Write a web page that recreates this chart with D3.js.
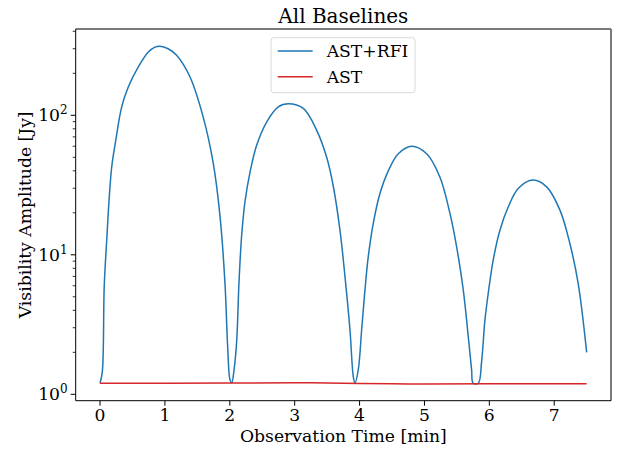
<!DOCTYPE html>
<html>
<head>
<meta charset="utf-8">
<script src="https://cdn.jsdelivr.net/npm/d3@7"></script>
<style>
  body { margin: 0; background: #fff; }
  text { font-family: "DejaVu Serif", serif; fill: #000; }
</style>
</head>
<body>
<svg id="chart" width="619" height="450"></svg>
<script>
// AST+RFI samples (time in min, amplitude in Jy)
var rfiTime = [0, 0.035, 0.065, 0.103, 0.139, 0.18, 0.242, 0.334, 0.437, 0.59, 0.744, 0.847, 0.925, 1.05, 1.18, 1.387,
    1.59, 1.746, 1.85, 1.926, 1.967, 2.003, 2.03, 2.065, 2.106, 2.142, 2.183, 2.234, 2.311, 2.414,
    2.568, 2.747, 2.902, 3.133, 3.339, 3.493, 3.595, 3.698, 3.775, 3.852, 3.903, 3.929, 3.98,
    4.032, 4.083, 4.134, 4.211, 4.314, 4.443, 4.597, 4.802, 5.034, 5.239, 5.393, 5.496, 5.598,
    5.675, 5.727, 5.75, 5.83, 5.88, 5.932, 5.983, 6.06, 6.163, 6.291, 6.445, 6.676, 6.883, 7.088,
    7.242, 7.37, 7.5];
var rfiAmp = [1.2, 1.45, 6, 12.7, 24.6, 42.6, 66, 115, 160, 222, 284, 308, 313, 300, 269, 188,
    97, 45, 18.7, 6.2, 2.2, 1.27, 1.21, 1.49, 2.4, 6.4, 13.8, 24, 39, 61,
    89.5, 115, 121, 112, 78, 50, 31, 15, 7, 2.9, 1.34, 1.2, 1.5,
    2.9, 5.6, 9.7, 16.8, 27.5, 40, 53, 60, 53, 36, 19.8, 11.4, 5.6,
    2.6, 1.49, 1.2, 1.2, 1.7, 3.4, 5.3, 9.2, 15, 22, 29.9, 34.3, 30.7, 20.9,
    12, 6.2, 2.0];

// AST only
var astTime = [0, 1, 2, 3, 3.5, 4.5, 5, 6, 7.5];
var astAmp = [1.2, 1.2, 1.205, 1.21, 1.205, 1.19, 1.185, 1.19, 1.19];

var xTicks = [0, 1, 2, 3, 4, 5, 6, 7];
var yMajor = [1, 10, 100];
var seriesNames = ["AST+RFI", "AST"];
var seriesColors = ["#1f77b4", "#d62728"];

var svg = d3.select("#chart");
var plotL = 75.7, plotR = 611, plotT = 29, plotB = 400.7;
var fs = "17.2px";

var x = d3.scaleLinear().domain([-0.375, 7.875]).range([plotL, plotR]);
var y = d3.scaleLog().domain([Math.pow(10, -0.0458), Math.pow(10, 2.6185)]).range([plotB, plotT]);

// x axis
var xAxis = svg.append("g").attr("transform", "translate(0," + plotB + ")");
xTicks.forEach(function (t) {
    xAxis.append("line").attr("x1", x(t)).attr("x2", x(t)).attr("y1", 0).attr("y2", 5)
        .attr("stroke", "#000").attr("stroke-width", 1);
    xAxis.append("text").attr("x", x(t)).attr("y", 20.5).attr("text-anchor", "middle")
        .style("font-size", fs).text(t);
});

// y axis, major + minor log ticks
var yAxis = svg.append("g").attr("transform", "translate(" + plotL + ",0)");
var minor = [];
yMajor.forEach(function (m) {
    for (var k = 2; k <= 9; k++) {
        if (m * k < y.domain()[1]) minor.push(m * k);
    }
});
minor.forEach(function (v) {
    yAxis.append("line").attr("x1", 0).attr("x2", -3).attr("y1", y(v)).attr("y2", y(v))
        .attr("stroke", "#000").attr("stroke-width", 0.8);
});
yMajor.forEach(function (v, i) {
    yAxis.append("line").attr("x1", 0).attr("x2", -5).attr("y1", y(v)).attr("y2", y(v))
        .attr("stroke", "#000").attr("stroke-width", 1);
    var lab = yAxis.append("text").attr("x", -8).attr("y", y(v) + 6).attr("text-anchor", "end")
        .style("font-size", fs);
    lab.append("tspan").text("10");
    lab.append("tspan").attr("dy", -7).style("font-size", "12px").text(i);
});

// lines
var line = d3.line()
    .x(function (d) { return x(d[0]); })
    .y(function (d) { return y(d[1]); })
    .curve(d3.curveCatmullRom.alpha(0.5));

svg.append("path").datum(d3.zip(rfiTime, rfiAmp))
    .attr("d", line).attr("fill", "none")
    .attr("stroke", seriesColors[0]).attr("stroke-width", 1.5);
svg.append("path").datum(d3.zip(astTime, astAmp))
    .attr("d", line).attr("fill", "none")
    .attr("stroke", seriesColors[1]).attr("stroke-width", 1.5);

// spines
svg.append("line").attr("x1", plotL).attr("x2", plotR).attr("y1", plotT).attr("y2", plotT)
    .attr("stroke", "#7a7a7a").attr("stroke-width", 2);
svg.append("line").attr("x1", plotR).attr("x2", plotR).attr("y1", plotT).attr("y2", plotB)
    .attr("stroke", "#7a7a7a").attr("stroke-width", 2);
svg.append("line").attr("x1", plotL).attr("x2", plotL).attr("y1", plotT).attr("y2", plotB)
    .attr("stroke", "#000").attr("stroke-width", 1);
svg.append("line").attr("x1", plotL).attr("x2", plotR).attr("y1", plotB).attr("y2", plotB)
    .attr("stroke", "#000").attr("stroke-width", 1);

// legend
var legend = svg.append("g");
legend.append("rect").attr("x", 271).attr("y", 37.7).attr("width", 144).attr("height", 55)
    .attr("rx", 3).attr("fill", "#fff").attr("fill-opacity", 0.8)
    .attr("stroke", "#d9d9d9").attr("stroke-width", 1);
seriesNames.forEach(function (name, i) {
    var ly = 51 + i * 25.7;
    legend.append("line").attr("x1", 277.7).attr("x2", 312.7).attr("y1", ly).attr("y2", ly)
        .attr("stroke", seriesColors[i]).attr("stroke-width", 1.5);
    legend.append("text").attr("x", 326.7).attr("y", ly + 6).style("font-size", fs).text(name);
});

// titles
svg.append("text").attr("x", (plotL + plotR) / 2).attr("y", 23.3).attr("text-anchor", "middle")
    .style("font-size", "20px").text("All Baselines");
svg.append("text").attr("x", (plotL + plotR) / 2).attr("y", 441.7).attr("text-anchor", "middle")
    .style("font-size", fs).text("Observation Time [min]");
svg.append("text").attr("transform", "translate(31," + ((plotT + plotB) / 2) + ") rotate(-90)")
    .attr("text-anchor", "middle").style("font-size", fs).text("Visibility Amplitude [Jy]");
</script>
</body>
</html>
